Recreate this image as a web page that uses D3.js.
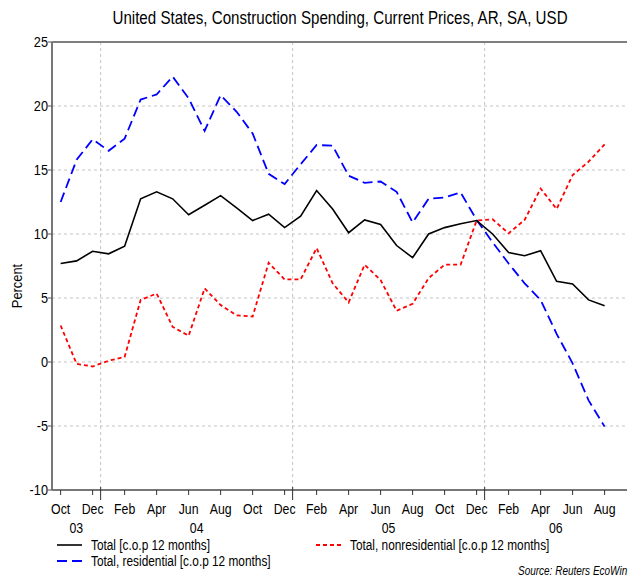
<!DOCTYPE html>
<html>
<head>
<meta charset="utf-8">
<script src="https://cdn.jsdelivr.net/npm/d3@7"></script>
<style>
  body { margin: 0; background: #fff; }
  svg text { font-family: "Liberation Sans", Arial, sans-serif; fill: #000; }
</style>
</head>
<body>
<svg id="chart" width="628" height="578"></svg>
<script>
// monthly observations, Oct 2003 .. Aug 2006
const total = [7.7, 7.9, 8.65, 8.45, 9.05, 12.75, 13.3, 12.75, 11.5, 12.25, 13.0, 12.05,
  11.05, 11.55, 10.5, 11.4, 13.4, 11.95, 10.1, 11.1, 10.75, 9.1, 8.15, 10.0,
  10.5, 10.8, 11.05, 10.0, 8.55, 8.3, 8.7, 6.3, 6.1, 4.85, 4.4];
const residential = [12.5, 15.8, 17.4, 16.5, 17.45, 20.5, 20.9, 22.3, 20.6, 18.05, 20.85, 19.55,
  17.85, 14.7, 13.9, 15.45, 16.95, 16.9, 14.55, 14.0, 14.1, 13.3, 10.9, 12.75,
  12.85, 13.25, 11.1, 9.35, 7.7, 6.15, 4.85, 2.2, -0.1, -3.0, -5.05];
const nonresidential = [2.85, -0.15, -0.35, 0.1, 0.4, 4.85, 5.35, 2.75, 2.05, 5.75, 4.45, 3.65,
  3.55, 7.75, 6.45, 6.45, 8.9, 6.15, 4.65, 7.6, 6.4, 4.0, 4.55, 6.55,
  7.6, 7.6, 11.05, 11.15, 10.05, 11.1, 13.55, 11.95, 14.6, 15.65, 17.0];

// tick labels
const monthTicks = ['Oct', 'Dec', 'Feb', 'Apr', 'Jun', 'Aug', 'Oct', 'Dec', 'Feb',
  'Apr', 'Jun', 'Aug', 'Oct', 'Dec', 'Feb', 'Apr', 'Jun', 'Aug'];
const yearLabels = ['03', '04', '05', '06'];
const yTicks = [25, 20, 15, 10, 5, 0, -5, -10];

const seriesNames = [
  'Total [c.o.p 12 months]',
  'Total, residential [c.o.p 12 months]',
  'Total, nonresidential [c.o.p 12 months]'
];

const svg = d3.select('#chart');
const margin = { top: 42, left: 52, right: 627, bottom: 490 };

// the original face is a narrow sans, squeeze the regular one horizontally
const squeeze = 0.82;
const place = (px, py, sx = squeeze) => `translate(${px}, ${py}) scale(${sx}, 1)`;

// x works on month index, 0 = Oct 2003
const x = d3.scaleLinear()
    .domain([-0.54, 35.4])
    .range([margin.left, margin.right]);

const y = d3.scaleLinear()
    .domain([-10, 25])
    .range([margin.bottom, margin.top]);

// year boundaries sit half way between Dec and Jan
const yearBreaks = [2.5, 14.5, 26.5];
const yearSpans = [[x.domain()[0], 2.5], [2.5, 14.5], [14.5, 26.5], [26.5, x.domain()[1]]];

// title
svg.append('text')
    .attr('transform', place(340, 24, 0.865))
    .attr('text-anchor', 'middle')
    .attr('font-size', 17.5)
    .text('United States, Construction Spending, Current Prices, AR, SA, USD');

// grid
const grid = svg.append('g')
    .attr('stroke', '#c4c4c4')
    .attr('stroke-width', 1)
    .attr('stroke-dasharray', '3,3');

grid.selectAll('.h')
  .data(yTicks.filter(d => d > -10 && d < 25))
  .join('line')
    .attr('x1', margin.left)
    .attr('x2', margin.right)
    .attr('y1', d => y(d))
    .attr('y2', d => y(d));

grid.selectAll('.v')
  .data(yearBreaks)
  .join('line')
    .attr('x1', d => x(d))
    .attr('x2', d => x(d))
    .attr('y1', margin.top)
    .attr('y2', margin.bottom);

// frame
svg.append('line')
    .attr('x1', margin.left).attr('x2', margin.right)
    .attr('y1', margin.top).attr('y2', margin.top)
    .attr('stroke', '#555')
    .attr('stroke-width', 1.5);

svg.append('line')
    .attr('x1', margin.left).attr('x2', margin.left)
    .attr('y1', margin.top).attr('y2', margin.bottom)
    .attr('stroke', '#777')
    .attr('stroke-width', 2);

svg.append('line')
    .attr('x1', margin.left).attr('x2', margin.right)
    .attr('y1', margin.bottom).attr('y2', margin.bottom)
    .attr('stroke', '#777')
    .attr('stroke-width', 2);

// y axis
const yAxis = svg.append('g');

yAxis.selectAll('line')
  .data(yTicks)
  .join('line')
    .attr('x1', margin.left - 4)
    .attr('x2', margin.left)
    .attr('y1', d => y(d))
    .attr('y2', d => y(d))
    .attr('stroke', '#555');

yAxis.selectAll('text')
  .data(yTicks)
  .join('text')
    .attr('transform', d => place(margin.left - 4, y(d), 0.85))
    .attr('dy', '0.32em')
    .attr('text-anchor', 'end')
    .attr('font-size', 15)
    .text(d => d);

svg.append('text')
    .attr('transform', `translate(22, 286) rotate(-90) scale(0.86, 1)`)
    .attr('text-anchor', 'middle')
    .attr('font-size', 15)
    .text('Percent');

// x axis
const xAxis = svg.append('g');
const tickIdx = monthTicks.map((d, i) => i * 2);

xAxis.selectAll('.minor')
  .data(tickIdx)
  .join('line')
    .attr('x1', d => x(d))
    .attr('x2', d => x(d))
    .attr('y1', margin.bottom)
    .attr('y2', margin.bottom + 5)
    .attr('stroke', '#333');

xAxis.selectAll('.major')
  .data(yearBreaks)
  .join('line')
    .attr('x1', d => x(d))
    .attr('x2', d => x(d))
    .attr('y1', margin.bottom - 3)
    .attr('y2', margin.bottom + 10)
    .attr('stroke', '#333');

xAxis.selectAll('.month')
  .data(monthTicks)
  .join('text')
    .attr('transform', (d, i) => place(x(tickIdx[i]), 514))
    .attr('text-anchor', 'middle')
    .attr('font-size', 15)
    .text(d => d);

xAxis.selectAll('.year')
  .data(yearLabels)
  .join('text')
    .attr('transform', (d, i) => place(x((yearSpans[i][0] + yearSpans[i][1]) / 2), 533))
    .attr('text-anchor', 'middle')
    .attr('font-size', 15)
    .text(d => d);

// lines
const line = d3.line()
    .x((d, i) => x(i))
    .y(d => y(d));

const series = [
  { values: total, color: '#000', dash: null, width: 1.6 },
  { values: residential, color: '#0000ff', dash: '10,5', width: 1.8 },
  { values: nonresidential, color: '#ff0000', dash: '4,3', width: 1.8 }
];

svg.append('g')
  .selectAll('path')
  .data(series.slice().reverse())
  .join('path')
    .attr('d', d => line(d.values))
    .attr('fill', 'none')
    .attr('stroke', d => d.color)
    .attr('stroke-width', d => d.width)
    .attr('stroke-dasharray', d => d.dash);

// legend
const legendPos = [[57, 545], [57, 561], [316, 545]];

const legend = svg.append('g')
  .selectAll('g')
  .data(series)
  .join('g')
    .attr('transform', (d, i) => `translate(${legendPos[i][0]}, ${legendPos[i][1]})`);

legend.append('line')
    .attr('x1', 0)
    .attr('x2', 25)
    .attr('stroke', d => d.color)
    .attr('stroke-width', d => d.width)
    .attr('stroke-dasharray', d => d.dash);

legend.append('text')
    .attr('transform', place(34, 0, 0.79))
    .attr('dy', '0.35em')
    .attr('font-size', 15)
    .text((d, i) => seriesNames[i]);

svg.append('text')
    .attr('transform', place(518, 575, 0.8))
    .attr('font-size', 12.5)
    .attr('font-style', 'italic')
    .text('Source: Reuters EcoWin');
</script>
</body>
</html>
